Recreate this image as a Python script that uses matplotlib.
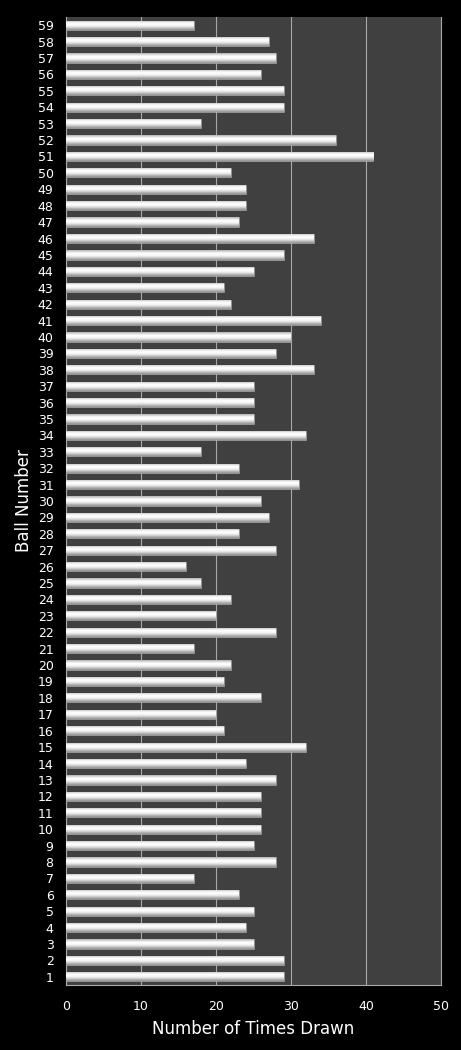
import numpy as np
import matplotlib
matplotlib.use("Agg")
import matplotlib.pyplot as plt

# ball numbers and how often each was drawn
balls = list(range(1, 60))
times_drawn = [29, 29, 25, 24, 25, 23, 17, 28, 25, 26,
               26, 26, 28, 24, 32, 21, 20, 26, 21, 22,
               17, 28, 20, 22, 18, 16, 28, 23, 27, 26,
               31, 23, 18, 32, 25, 25, 25, 33, 28, 30,
               34, 22, 21, 25, 29, 33, 23, 24, 24, 22,
               41, 36, 18, 29, 29, 26, 28, 27, 17]

fig = plt.figure(figsize=(4.61, 10.5), dpi=100, facecolor="black")
ax = fig.add_axes([0.1432, 0.0619, 0.8134, 0.9219])
ax.set_facecolor("#404040")

bars = ax.barh(balls, times_drawn, height=0.56, color="#d8d8d8",
               edgecolor="#9a9a9a", linewidth=0.4, zorder=3)

# cylinder-like shading on every bar
shade = np.array([0.72, 0.86, 0.97, 1.0, 0.98, 0.93, 0.84, 0.72, 0.60])
grad = np.repeat(shade[:, None], 2, axis=1)
for b in bars:
    x0, y0 = b.get_x(), b.get_y()
    w, h = b.get_width(), b.get_height()
    im = ax.imshow(grad, cmap="gray", vmin=0, vmax=1, aspect="auto",
                   extent=(x0, x0 + w, y0, y0 + h), origin="upper",
                   interpolation="bicubic", zorder=3.5)
    im.set_clip_path(b)

ax.set_xlim(0, 50)
ax.set_ylim(0.5, 59.5)
ax.set_xticks(range(0, 51, 10))
ax.set_yticks(balls)
ax.set_yticklabels([str(n) for n in balls])
ax.xaxis.grid(True, color="#a8a8a8", linewidth=0.8, zorder=1)
ax.set_axisbelow(True)

ax.tick_params(axis="both", colors="white", labelsize=9, length=0)
ax.tick_params(axis="x", pad=11)
ax.tick_params(axis="y", pad=9)
for side in ["left", "bottom", "right"]:
    ax.spines[side].set_color("#a8a8a8")
    ax.spines[side].set_linewidth(0.8)
ax.spines["top"].set_visible(False)

ax.set_xlabel("Number of Times Drawn", color="white", fontsize=12, labelpad=5)
ax.set_ylabel("Ball Number", color="white", fontsize=12, labelpad=3)

fig.savefig("out.png", dpi=100, facecolor="black")
